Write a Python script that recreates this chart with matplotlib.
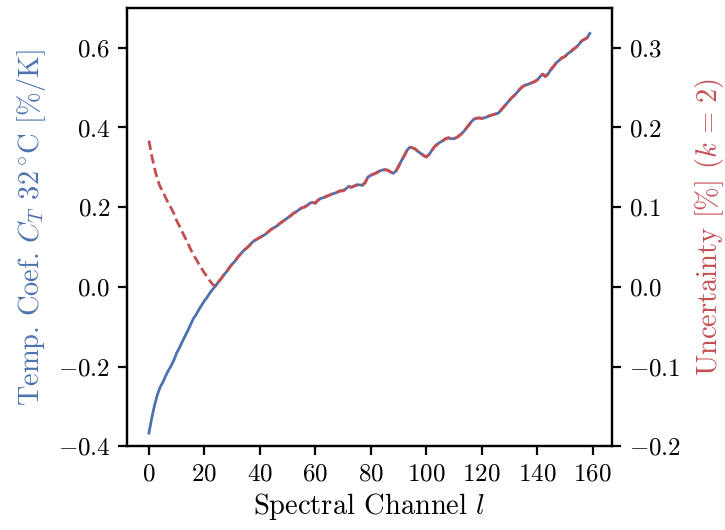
import numpy as np
import matplotlib
matplotlib.use("Agg")
import matplotlib.pyplot as plt

plt.rcParams.update({
    "font.family": "serif",
    "font.serif": ["cmr10"],
    "mathtext.fontset": "cm",
    "axes.formatter.use_mathtext": True,
    "font.size": 18,
})

channels = list(range(160))
temp_coef = [
    -0.367, -0.330, -0.298, -0.272, -0.252, -0.240, -0.224, -0.210, -0.198, -0.184,
    -0.166, -0.153, -0.138, -0.124, -0.110, -0.095, -0.080, -0.070, -0.057, -0.046,
    -0.035, -0.026, -0.015, -0.006, 0.002, 0.012, 0.020, 0.030, 0.038, 0.048,
    0.057, 0.064, 0.074, 0.082, 0.090, 0.096, 0.102, 0.110, 0.116, 0.120,
    0.124, 0.128, 0.132, 0.138, 0.144, 0.148, 0.152, 0.158, 0.163, 0.168,
    0.173, 0.178, 0.184, 0.188, 0.193, 0.198, 0.200, 0.204, 0.210, 0.212,
    0.210, 0.218, 0.222, 0.224, 0.227, 0.230, 0.233, 0.235, 0.238, 0.241,
    0.241, 0.246, 0.252, 0.250, 0.253, 0.256, 0.256, 0.255, 0.262, 0.276,
    0.280, 0.283, 0.286, 0.290, 0.293, 0.294, 0.293, 0.289, 0.285, 0.290,
    0.302, 0.316, 0.328, 0.342, 0.350, 0.349, 0.346, 0.340, 0.335, 0.330,
    0.326, 0.332, 0.342, 0.352, 0.358, 0.363, 0.367, 0.372, 0.374, 0.372,
    0.372, 0.375, 0.380, 0.386, 0.394, 0.403, 0.412, 0.420, 0.423, 0.424,
    0.423, 0.424, 0.427, 0.430, 0.432, 0.434, 0.436, 0.444, 0.452, 0.460,
    0.468, 0.476, 0.482, 0.490, 0.498, 0.504, 0.507, 0.509, 0.512, 0.515,
    0.519, 0.527, 0.534, 0.528, 0.535, 0.546, 0.554, 0.563, 0.569, 0.575,
    0.578, 0.585, 0.590, 0.596, 0.601, 0.608, 0.617, 0.621, 0.625, 0.636,
]
uncertainty = [
    0.1835, 0.165, 0.149, 0.136, 0.126, 0.120, 0.112, 0.105, 0.099, 0.092,
    0.083, 0.0765, 0.069, 0.062, 0.055, 0.0475, 0.040, 0.035, 0.0285, 0.023,
    0.0175, 0.013, 0.0075, 0.003, 0.001, 0.006, 0.010, 0.015, 0.019, 0.024,
    0.0285, 0.032, 0.037, 0.041, 0.045, 0.048, 0.051, 0.055, 0.058, 0.060,
    0.062, 0.064, 0.066, 0.069, 0.072, 0.074, 0.076, 0.079, 0.0815, 0.084,
    0.0865, 0.089, 0.092, 0.094, 0.0965, 0.099, 0.100, 0.102, 0.105, 0.106,
    0.105, 0.109, 0.111, 0.112, 0.1135, 0.115, 0.1165, 0.1175, 0.119, 0.1205,
    0.1205, 0.123, 0.126, 0.125, 0.1265, 0.128, 0.128, 0.1275, 0.131, 0.138,
    0.140, 0.1415, 0.143, 0.145, 0.1465, 0.147, 0.1465, 0.1445, 0.1425, 0.145,
    0.151, 0.158, 0.164, 0.171, 0.175, 0.1745, 0.173, 0.170, 0.1675, 0.165,
    0.163, 0.166, 0.171, 0.176, 0.179, 0.1815, 0.1835, 0.186, 0.187, 0.186,
    0.186, 0.1875, 0.190, 0.193, 0.197, 0.2015, 0.206, 0.210, 0.2115, 0.212,
    0.2115, 0.212, 0.2135, 0.215, 0.216, 0.217, 0.218, 0.222, 0.226, 0.230,
    0.234, 0.238, 0.241, 0.245, 0.249, 0.252, 0.2535, 0.2545, 0.256, 0.2575,
    0.2595, 0.2635, 0.267, 0.264, 0.2675, 0.273, 0.277, 0.2815, 0.2845, 0.2875,
    0.289, 0.2925, 0.295, 0.298, 0.3005, 0.304, 0.3085, 0.3105, 0.3125, 0.318,
]

blue = "#4C72B0"
red = "#C44E52"

fig = plt.figure(figsize=(7.25, 5.30), dpi=100)
ax = fig.add_axes([0.175, 0.158, 0.669, 0.827])
ax2 = ax.twinx()

ax.plot(channels, temp_coef, color=blue, lw=2.0)
ax2.plot(channels, uncertainty, color=red, lw=2.0, ls="--", dashes=(3.4, 1.6))

ax.set_ylim(-0.4, 0.7)
ax2.set_ylim(-0.2, 0.35)
ax.set_yticks([-0.4, -0.2, 0.0, 0.2, 0.4, 0.6])
ax2.set_yticks([-0.2, -0.1, 0.0, 0.1, 0.2, 0.3])
ax.set_xticks(range(0, 161, 20))

ax.set_xlabel(r"Spectral Channel $l$", fontsize=20.5, labelpad=4)
ax.set_ylabel(r"Temp. Coef. $C_T$ $32\,^{\circ}$C [%/K]", color=blue,
              fontsize=20.5, labelpad=7)
ax2.set_ylabel(r"Uncertainty [%] ($k\,=\,2$)", color=red, fontsize=20.5,
               labelpad=9)

for a in (ax, ax2):
    for s in a.spines.values():
        s.set_linewidth(1.6)
    a.tick_params(width=1.6, length=6.5, labelsize=18, pad=5.5)

fig.savefig("out.png", dpi=100)
